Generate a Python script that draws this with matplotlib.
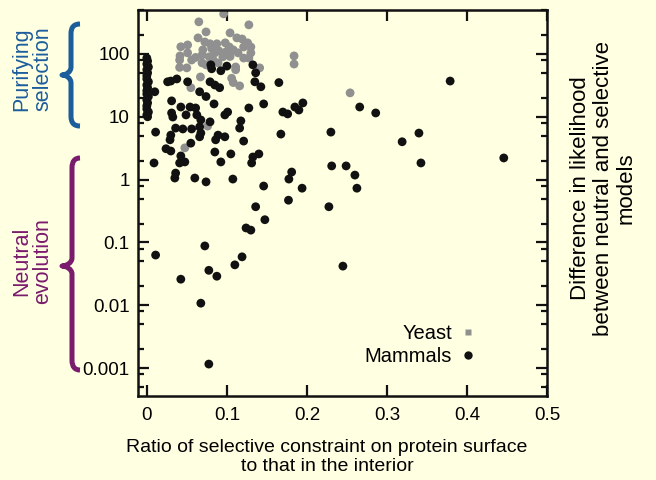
import matplotlib
matplotlib.use("Agg")
import matplotlib.pyplot as plt
from matplotlib.lines import Line2D
from matplotlib.path import Path
from matplotlib.patches import PathPatch
from matplotlib.ticker import LogLocator, FuncFormatter

plt.rcParams['font.family'] = ['Liberation Sans', 'DejaVu Sans']

# --- data ---
# mammals: a stack of genes sitting at ratio 0
mammal_zero_y = [86, 77, 69, 62, 56, 50, 45, 40, 36, 32, 29, 26, 23, 21,
                 18.5, 16.6, 14.9, 13.3, 11.9, 10.7, 10.0]
mammal_zero_x = [0.0, 0.001, 0.0, 0.002, 0.0, 0.001, 0.0, 0.0, 0.002, 0.0, 0.001,
                 0.0, 0.0, 0.002, 0.0, 0.001, 0.0, 0.0, 0.002, 0.0, 0.001]

mammal_x = [0.010, 0.009, 0.011, 0.011, 0.026, 0.030, 0.0375, 0.051, 0.080, 0.081,
            0.0925, 0.100, 0.066, 0.079, 0.085, 0.091, 0.074, 0.1325, 0.136, 0.135,
            0.1425, 0.165, 0.031, 0.031, 0.0325, 0.0425, 0.049, 0.054, 0.061, 0.0625,
            0.084, 0.101, 0.0975, 0.0675, 0.066, 0.079, 0.036, 0.045, 0.056, 0.0675,
            0.030, 0.066, 0.089, 0.029, 0.086, 0.0975, 0.055, 0.024, 0.030, 0.085,
            0.105, 0.0425, 0.041, 0.0475, 0.0925, 0.036, 0.035, 0.060, 0.074, 0.1075,
            0.1275, 0.146, 0.170, 0.176, 0.185, 0.190, 0.195, 0.1175, 0.116, 0.1675,
            0.230, 0.121, 0.1325, 0.140, 0.131, 0.231, 0.249, 0.181, 0.1775, 0.146,
            0.194, 0.177, 0.260, 0.2625, 0.266, 0.286, 0.319, 0.340, 0.3425, 0.379,
            0.446, 0.1475, 0.136, 0.2275, 0.124, 0.130, 0.0725, 0.119, 0.0775, 0.0875,
            0.110, 0.0425, 0.245, 0.0675, 0.0775]
mammal_y = [25, 1.84, 5.7, 0.063, 36, 37, 40, 36, 67, 58,
            54, 64, 25, 36, 32, 29, 21, 67, 50, 36,
            30, 35, 17.9, 11.5, 9.9, 14.3, 10.7, 14.3, 13.8, 10.7,
            16.0, 11.9, 10.7, 8.9, 6.9, 8.3, 6.6, 6.4, 6.4, 5.5,
            5.1, 4.8, 5.1, 4.3, 4.3, 4.8, 3.8, 3.1, 2.85, 2.75,
            2.56, 2.38, 1.84, 1.91, 1.91, 1.27, 1.06, 1.06, 0.92, 1.02,
            13.8, 16.0, 11.9, 11.1, 14.3, 12.8, 16.6, 8.6, 6.6, 5.3,
            5.7, 4.1, 2.29, 2.56, 1.84, 1.65, 1.65, 1.32, 1.02, 0.79,
            0.73, 0.47, 1.18, 0.73, 14.3, 11.5, 4.0, 5.5, 1.84, 37,
            2.21, 0.23, 0.37, 0.37, 0.17, 0.157, 0.088, 0.059, 0.036, 0.029,
            0.044, 0.026, 0.042, 0.0108, 0.00116]

yeast_x = [0.096, 0.065, 0.1275, 0.074, 0.104, 0.064, 0.1125, 0.119, 0.0425, 0.051,
           0.0725, 0.079, 0.0875, 0.098, 0.103, 0.126, 0.130, 0.121, 0.081, 0.090,
           0.108, 0.0415, 0.051, 0.061, 0.069, 0.078, 0.085, 0.095, 0.104, 0.114,
           0.130, 0.041, 0.056, 0.069, 0.0825, 0.121, 0.1275, 0.041, 0.050, 0.111,
           0.111, 0.141, 0.067, 0.106, 0.108, 0.116, 0.055, 0.184, 0.184, 0.254,
           0.0475, 0.076, 0.074, 0.089, 0.099, 0.070]
yeast_y = [434, 324, 290, 224, 216, 180, 180, 173, 130, 139,
           155, 145, 145, 150, 129, 150, 129, 129, 122, 112,
           116, 93, 104, 88, 96, 90, 104, 90, 91, 104,
           104, 80, 80, 72, 82, 86, 86, 61, 60, 62,
           56, 60, 43, 41, 35, 31, 29, 93, 69, 24,
           3.2, 7.1, 67, 72, 108, 116]

x_ticks = [0, 0.1, 0.2, 0.3, 0.4, 0.5]
y_ticks = [0.001, 0.01, 0.1, 1, 10, 100]

BG = '#ffffe1'
BLUE = '#1c5d9c'
PURPLE = '#7a1b6d'

fig = plt.figure(figsize=(6.56, 4.8), dpi=100, facecolor=BG)
ax = fig.add_axes([138 / 656, 84 / 480, 409 / 656, 386 / 480], facecolor=BG)

ax.scatter(yeast_x, yeast_y, s=40, color='#909090', edgecolors='none', zorder=2)
ax.scatter(mammal_zero_x, mammal_zero_y, s=40, color='#111111', edgecolors='none', zorder=3)
ax.scatter(mammal_x, mammal_y, s=40, color='#111111', edgecolors='none', zorder=3)

ax.set_yscale('log')
ax.set_xlim(-0.011, 0.5)
ax.set_ylim(3.6e-4, 500)
ax.set_xticks(x_ticks)
ax.set_yticks(y_ticks)
ax.xaxis.set_major_formatter(FuncFormatter(lambda v, p: f'{v:g}'))
ax.yaxis.set_major_formatter(FuncFormatter(lambda v, p: f'{v:g}'))
ax.yaxis.set_minor_locator(LogLocator(base=10, subs=[2, 5, 8], numticks=20))
ax.yaxis.set_minor_formatter(FuncFormatter(lambda v, p: ''))
ax.tick_params(which='both', direction='in', top=True, right=True, width=1.6, color='#111111')
ax.tick_params(which='major', length=8, labelsize=13.5, pad=6)
ax.tick_params(which='minor', length=4.5)
ax.tick_params(axis='x', pad=8)
for sp in ax.spines.values():
    sp.set_linewidth(1.8)
    sp.set_color('#111111')

# legend, label on the left of the key
handles = [Line2D([], [], ls='none', marker='s', ms=5, color='#909090', mec='none'),
           Line2D([], [], ls='none', marker='o', ms=6, color='#111111', mec='none')]
ax.legend(handles, ['Yeast', 'Mammals'], markerfirst=False, frameon=False,
          loc='lower right', bbox_to_anchor=(0.866, 0.03), fontsize=14.5,
          handlelength=0.6, handletextpad=0.5, labelspacing=0.2)

fig.text(327 / 656, 0.048, 'Ratio of selective constraint on protein surface\nto that in the interior',
         ha='center', va='center', fontsize=14, linespacing=1.1)
fig.text(0.92, 0.608, 'Difference in likelihood\nbetween neutral and selective\nmodels',
         ha='center', va='center', rotation=90, fontsize=16, linespacing=1.1)

fig.text(32 / 656, 1 - 69 / 480, 'Purifying\nselection', color=BLUE, rotation=90,
         ha='center', va='center', fontsize=15.5, linespacing=1.0)
fig.text(32 / 656, 1 - 261 / 480, 'Neutral\nevolution', color=PURPLE, rotation=90,
         ha='center', va='center', fontsize=15.5, linespacing=1.0)


def brace(x_tip, x_mid, x_end, y_top, y_tip, y_bot, color):
    # pixel positions from the top-left corner of the figure
    W, H = 656, 480
    pts = [(x_end, y_top), (x_mid + 3, y_top), (x_mid, y_top + 3), (x_mid, y_top + 10),
           (x_mid, y_tip - 8),
           (x_mid, y_tip - 3), (x_tip + 4, y_tip), (x_tip, y_tip),
           (x_tip + 4, y_tip), (x_mid, y_tip + 3), (x_mid, y_tip + 8),
           (x_mid, y_bot - 10),
           (x_mid, y_bot - 3), (x_mid + 3, y_bot), (x_end, y_bot)]
    codes = [Path.MOVETO, Path.CURVE4, Path.CURVE4, Path.CURVE4, Path.LINETO,
             Path.CURVE4, Path.CURVE4, Path.CURVE4, Path.CURVE4, Path.CURVE4, Path.CURVE4,
             Path.LINETO, Path.CURVE4, Path.CURVE4, Path.CURVE4]
    path = Path([(x / W, 1 - y / H) for x, y in pts], codes)
    fig.add_artist(PathPatch(path, transform=fig.transFigure, fill=False,
                             lw=3.6, color=color, capstyle='butt', joinstyle='round'))


brace(62, 71, 80, 24, 75, 126, BLUE)
brace(62, 72, 80, 158, 266, 370, PURPLE)

fig.savefig('out.png', dpi=100, facecolor=BG)
